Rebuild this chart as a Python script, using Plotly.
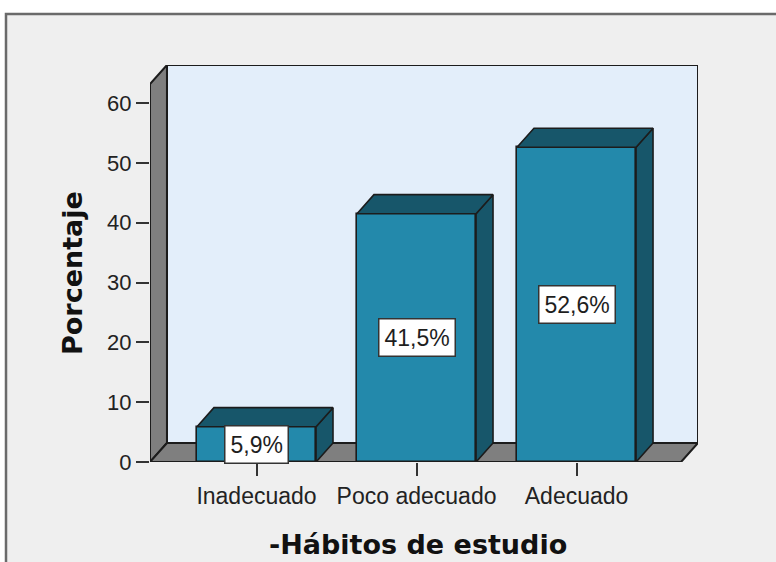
import plotly.graph_objects as go

# ---- data ----
categories = ["Inadecuado", "Poco adecuado", "Adecuado"]
percentages = [5.9, 41.5, 52.6]
y_ticks = [0, 10, 20, 30, 40, 50, 60]
x_title = "-Hábitos de estudio"
y_title = "Porcentaje"

# ---- style / geometry ----
W, H = 776, 562
ml, mr, mt, mb = 150, 78, 65, 100
x_range = [-0.6656, 2.759]
y_range = [0, 66.35]
dx = 0.106      # depth offset in x data units
dy = 3.18       # depth offset in y data units
bar_w = 0.744
front_col = "#2389ab"
dark_col = "#17566a"
wall_gray = "#7f7f7f"
back_col = "#e3eefa"
frame_bg = "#efefef"
edge = "#1c1c1c"
font_reg = "Liberation Sans, Arial, sans-serif"
font_bold = "DejaVu Sans, Verdana, sans-serif"

xL, xR = x_range
yT = y_range[1]

fig = go.Figure()

# front faces
xs = list(range(len(categories)))
fig.add_trace(go.Bar(
    x=xs, y=percentages, width=bar_w,
    marker=dict(color=front_col, line=dict(color=edge, width=1.6)),
    hoverinfo="skip", showlegend=False,
))

# top and side faces computed from values
for i, v in zip(xs, percentages):
    l, r = i - bar_w / 2, i + bar_w / 2
    top_x = [l, l + dx, r + dx, r, l]
    top_y = [v, v + dy, v + dy, v, v]
    side_x = [r, r, r + dx, r + dx, r]
    side_y = [0, v, v + dy, dy, 0]
    for px, py in ((side_x, side_y), (top_x, top_y)):
        fig.add_trace(go.Scatter(
            x=px, y=py, mode="lines", fill="toself",
            fillcolor=dark_col, line=dict(color=edge, width=1.6),
            hoverinfo="skip", showlegend=False,
        ))

# value labels
for i, v in zip(xs, percentages):
    fig.add_annotation(
        x=i, y=v / 2, xref="x", yref="y",
        text=f"{v:.1f}%".replace(".", ","), showarrow=False,
        font=dict(family=font_reg, size=23, color="#1e1e1e"),
        bgcolor="white", bordercolor="#333333", borderwidth=1.5, borderpad=5,
    )

# frame of the chart (paper background area)
def px_to_paper_x(X):
    return (X - ml) / (W - ml - mr)

def px_to_paper_y(Y):
    return (H - mb - Y) / (H - mt - mb)

shapes = []
shapes.append(dict(type="rect", xref="paper", yref="paper",
                   x0=px_to_paper_x(6), x1=px_to_paper_x(800),
                   y0=px_to_paper_y(600), y1=px_to_paper_y(14),
                   fillcolor=frame_bg, line=dict(color="#6a6a6a", width=2.5),
                   layer="below"))
# back wall
shapes.append(dict(type="rect", xref="x", yref="y",
                   x0=xL + dx, x1=xR, y0=dy, y1=yT,
                   fillcolor=back_col, line=dict(color=edge, width=2),
                   layer="below"))
# left wall
shapes.append(dict(type="path", xref="x", yref="y",
                   path=f"M {xL},0 L {xL},{yT - dy} L {xL + dx},{yT} L {xL + dx},{dy} Z",
                   fillcolor=wall_gray, line=dict(color=edge, width=2),
                   layer="below"))
# floor
shapes.append(dict(type="path", xref="x", yref="y",
                   path=f"M {xL},0 L {xR - dx},0 L {xR},{dy} L {xL + dx},{dy} Z",
                   fillcolor=wall_gray, line=dict(color=edge, width=2),
                   layer="below"))

# axis titles
fig.add_annotation(x=px_to_paper_x(417.5), y=px_to_paper_y(544), xref="paper", yref="paper",
                   text=f"<b>{x_title}</b>", showarrow=False,
                   font=dict(family=font_bold, size=27, color="#111111"),
                   xanchor="center", yanchor="middle")
fig.add_annotation(x=px_to_paper_x(72), y=px_to_paper_y(273), xref="paper", yref="paper",
                   text=f"<b>{y_title}</b>", showarrow=False, textangle=-90,
                   font=dict(family=font_bold, size=27, color="#111111"),
                   xanchor="center", yanchor="middle")

fig.update_layout(
    width=W, height=H,
    margin=dict(l=ml, r=mr, t=mt, b=mb, pad=0),
    paper_bgcolor="white", plot_bgcolor="rgba(0,0,0,0)",
    shapes=shapes, bargap=0, showlegend=False,
    xaxis=dict(range=x_range, tickvals=xs, ticktext=categories,
               ticks="outside", ticklen=13, tickwidth=2, tickcolor="#333333",
               showgrid=False, zeroline=False, showline=False, fixedrange=True,
               tickfont=dict(family=font_reg, size=23, color="#222222")),
    yaxis=dict(range=y_range, tickvals=y_ticks,
               ticks="outside", ticklen=13, tickwidth=2, tickcolor="#333333",
               showgrid=False, zeroline=False, showline=False, fixedrange=True,
               tickfont=dict(family=font_reg, size=22, color="#222222")),
)

fig.write_html("out.html", config={"displayModeBar": False},
               post_script="document.body.style.margin='0px';document.body.style.overflow='hidden';")
